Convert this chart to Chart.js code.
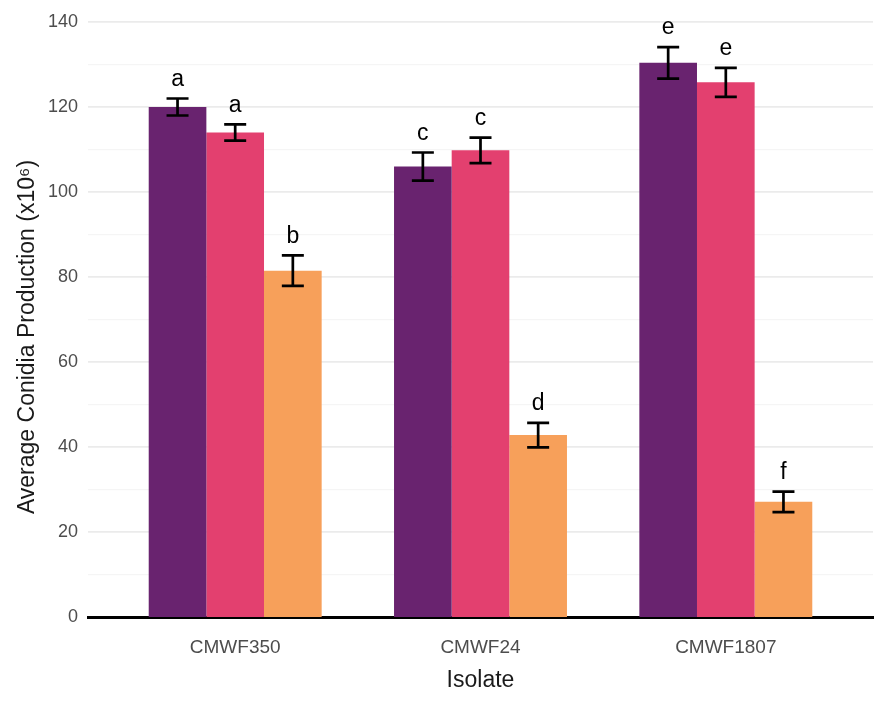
<!DOCTYPE html>
<html>
<head>
<meta charset="utf-8">
<script src="https://cdn.jsdelivr.net/npm/chart.js"></script>
<style>
  html, body { margin: 0; padding: 0; background: #fff; }
  #wrap { width: 890px; height: 702px; }
</style>
</head>
<body>
<div id="wrap"><canvas id="chart"></canvas></div>
<script>
const isolates = ['CMWF350', 'CMWF24', 'CMWF1807'];

const seriesA = [120, 106, 130.4];
const errorsA = [2.0, 3.3, 3.7];
const lettersA = ['a', 'c', 'e'];

const seriesB = [114, 109.8, 125.8];
const errorsB = [1.9, 3.0, 3.4];
const lettersB = ['a', 'c', 'e'];

const seriesC = [81.5, 42.8, 27.1];
const errorsC = [3.6, 2.9, 2.4];
const lettersC = ['b', 'd', 'f'];

const yTicks = [0, 20, 40, 60, 80, 100, 120, 140];
const yTitle = 'Average Conidia Production (x10\u2076)';

const FONT = '"Liberation Sans", Arial, sans-serif';

function points(values) {
    return values.map((v, i) => ({ x: i, y: v }));
}

// error bars and significance letters on top of the bars
const annotate = {
    id: 'annotate',
    afterDatasetsDraw(chart) {
        const ctx = chart.ctx;
        const y = chart.scales.y;
        chart.data.datasets.forEach((ds, i) => {
            const meta = chart.getDatasetMeta(i);
            meta.data.forEach((bar, j) => {
                const v = ds.data[j].y;
                const e = ds.errors[j];
                const top = y.getPixelForValue(v + e);
                const bottom = y.getPixelForValue(v - e);
                const x = bar.x;
                ctx.save();
                ctx.strokeStyle = '#000';
                ctx.lineWidth = 2.7;
                ctx.beginPath();
                ctx.moveTo(x, top); ctx.lineTo(x, bottom);
                ctx.moveTo(x - 11, top); ctx.lineTo(x + 11, top);
                ctx.moveTo(x - 11, bottom); ctx.lineTo(x + 11, bottom);
                ctx.stroke();
                ctx.fillStyle = '#000';
                ctx.font = '23px ' + FONT;
                ctx.textAlign = 'center';
                ctx.textBaseline = 'middle';
                ctx.fillText(ds.letters[j], x, top - 19);
                ctx.restore();
            });
        });

        // y axis title, centred a little lower than the plot area
        ctx.save();
        ctx.translate(28, 337);
        ctx.rotate(-Math.PI / 2);
        ctx.fillStyle = '#1a1a1a';
        ctx.font = '23px ' + FONT;
        ctx.textAlign = 'center';
        ctx.textBaseline = 'middle';
        ctx.fillText(yTitle, 0, 0);
        ctx.restore();
    }
};

new Chart(document.getElementById('chart'), {
    type: 'bar',
    data: {
        datasets: [
            { label: 'A', data: points(seriesA), errors: errorsA, letters: lettersA, backgroundColor: '#69236F' },
            { label: 'B', data: points(seriesB), errors: errorsB, letters: lettersB, backgroundColor: '#E3406F' },
            { label: 'C', data: points(seriesC), errors: errorsC, letters: lettersC, backgroundColor: '#F7A05A' }
        ]
    },
    options: {
        responsive: true,
        maintainAspectRatio: false,
        animation: false,
        categoryPercentage: 0.705,
        barPercentage: 1.0,
        layout: { padding: { top: 22, right: 17, left: 0, bottom: 0 } },
        plugins: {
            legend: { display: false },
            tooltip: { enabled: false }
        },
        scales: {
            x: {
                type: 'linear',
                offset: false,
                min: -0.6,
                max: 2.6,
                afterBuildTicks: scale => {
                    scale.ticks = isolates.map((_, i) => ({ value: i }));
                },
                afterFit: scale => { scale.height = 85; },
                grid: { display: false, drawTicks: false },
                border: { display: true, color: '#000', width: 3 },
                ticks: {
                    padding: 19,
                    color: '#4d4d4d',
                    font: { family: FONT, size: 19 },
                    callback: value => isolates[value] ?? ''
                },
                title: {
                    display: true,
                    text: 'Isolate',
                    color: '#1a1a1a',
                    font: { family: FONT, size: 23 },
                    padding: { top: 0, bottom: 8 }
                }
            },
            y: {
                min: 0,
                max: 140,
                afterBuildTicks: scale => {
                    const all = [];
                    for (let v = 0; v <= 140; v += 10) all.push({ value: v });
                    scale.ticks = all;
                },
                afterFit: scale => { scale.width = 88; },
                grid: {
                    drawTicks: false,
                    color: c => yTicks.includes(c.tick.value) ? '#ebebeb' : '#f5f5f5',
                    lineWidth: c => c.tick.value === 0 ? 0 : (yTicks.includes(c.tick.value) ? 1.8 : 1.2)
                },
                border: { display: false },
                ticks: {
                    padding: 10,
                    color: '#4d4d4d',
                    font: { family: FONT, size: 18 },
                    callback: value => yTicks.includes(value) ? String(value) : ''
                },
                title: { display: false }
            }
        }
    },
    plugins: [annotate]
});
</script>
</body>
</html>
